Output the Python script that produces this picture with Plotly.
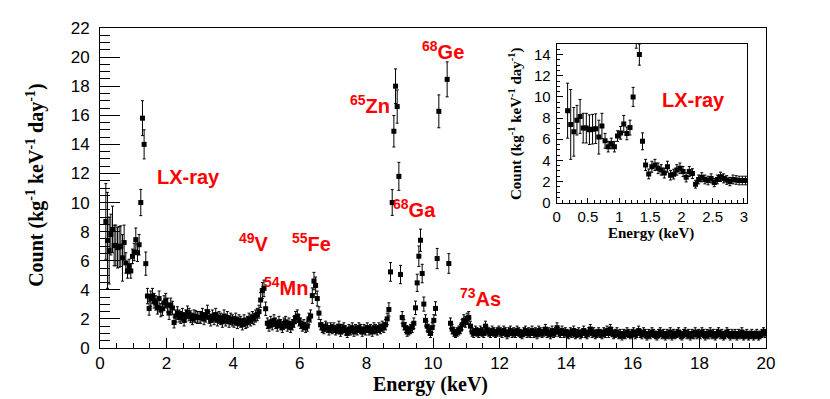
import numpy as np
import plotly.graph_objects as go

# bin centres start at 0.175 keV, 0.05 keV wide
e_start, e_step = 0.175, 0.05

counts_0_3 = [8.7, 7.4, 6.7, 7.8, 8.15, 7.05, 7.05, 6.9, 6.95, 7.0,
              6.2, 7.25, 5.85, 5.3, 5.6, 5.3, 6.3, 6.6, 7.45, 6.55,
              7.1, 10.0, 15.8, 14.0, 5.8,
              3.57, 2.72, 3.4, 3.57, 3.25, 3.1, 2.8, 3.4, 2.6, 2.7,
              3.1, 3.25, 2.95, 2.4, 2.95, 2.75,
              1.75, 2.2, 2.4, 2.2, 2.1, 2.3, 1.9, 2.2, 2.45, 2.3,
              2.15, 2.0, 2.2, 2.15, 2.1, 2.1]
counts_3_8 = [2.1, 2.3, 2.0, 2.2, 2.5, 2.1, 1.9, 2.2, 2.0, 2.3, 1.9, 2.1, 2.0, 1.8, 2.2, 1.9, 2.1, 1.8, 2.0, 1.9,
              1.8, 2.0, 1.7, 1.9, 1.8, 1.6, 1.9, 1.7, 1.8, 2.0, 1.9, 2.1, 2.0, 2.2, 2.3, 2.5, 3.3, 3.95, 4.1, 2.7,
              1.7, 1.5, 1.8, 1.6, 1.9, 1.7, 1.5, 1.8, 1.6, 1.4, 1.7, 1.8, 1.5, 1.7, 1.4, 1.6, 1.8, 2.1, 2.2, 1.9,
              1.7, 1.5, 1.6, 1.4, 1.5, 2.0, 2.2, 3.6, 4.6, 4.3, 3.4, 2.4, 1.6, 1.4, 1.3, 1.5, 1.4, 1.2, 1.4, 1.3,
              1.4, 1.2, 1.3, 1.5, 1.1, 1.3, 1.4, 1.2, 1.0, 1.3, 1.2, 1.4, 1.1, 1.3, 1.2, 1.4, 1.3, 1.1, 1.3, 1.2]
counts_8_12 = [1.4, 1.2, 1.3, 1.1, 1.4, 1.3, 1.2, 1.4, 1.3, 1.5, 1.4, 1.6, 2.0, 2.65, 5.23, 10.0, 14.9, 18.0, 16.6, 11.8,
               5.05, 2.1, 1.6, 1.4, 1.1, 1.2, 1.3, 1.4, 1.7, 2.76, 4.48, 6.31, 7.41, 5.12, 3.02, 1.9, 1.5, 1.2, 1.0, 1.4,
               1.9, 2.72, 6.15, 16.27, None, None, None, None, 18.47, 5.81, 1.7, 1.3, 1.1, 1.0, 1.1, 1.2, 1.3, 1.6, 1.9, 1.8,
               2.0, 2.1, 1.5, 1.1, 1.0, 1.2, 1.1, 1.0, 1.2, 1.1, 1.0, 1.5, 1.2, 1.1, 1.0, 1.2, 1.1, 1.0, 1.1, 1.2]
counts_12_20 = [1.1, 1.0, 1.2, 1.1, 0.9, 1.1, 1.2, 1.0, 1.1, 1.0, 1.2, 1.1, 1.0, 0.9, 1.1, 1.2, 1.0, 1.1, 1.0, 1.2,
                1.0, 1.1, 0.9, 1.2, 1.1, 1.0, 1.1, 1.3, 1.0, 1.1, 0.9, 1.2, 1.0, 1.1, 1.4, 1.1, 1.0, 1.2, 1.0, 1.1,
                1.0, 0.9, 1.1, 1.0, 1.2, 0.9, 1.0, 1.1, 0.9, 1.0, 1.2, 1.0, 0.9, 1.1, 1.3, 1.0, 1.1, 0.9, 1.0, 1.1,
                1.0, 0.9, 1.1, 1.0, 1.2, 1.0, 1.3, 1.1, 0.9, 1.0, 1.1, 0.9, 1.0, 0.8, 1.0, 0.9, 1.1, 1.0, 0.9, 1.0,
                1.1, 0.9, 1.0, 1.2, 1.0, 0.9, 1.1, 1.0, 0.8, 1.0, 0.9, 1.1, 1.0, 0.9, 0.8, 1.0, 1.1, 0.9, 1.0, 0.8,
                1.0, 0.9, 1.1, 0.8, 1.0, 0.9, 1.0, 1.1, 0.9, 0.8, 1.0, 1.1, 0.9, 1.0, 0.8, 1.0, 0.9, 1.1, 0.9, 1.0,
                0.9, 1.1, 1.0, 0.8, 1.0, 0.9, 1.1, 0.9, 1.0, 0.8, 1.0, 1.1, 0.9, 1.0, 0.8, 0.9, 1.1, 1.0, 0.8, 1.0,
                0.9, 1.0, 0.8, 1.0, 0.9, 1.1, 0.8, 0.9, 1.0, 0.8, 0.9, 1.0, 0.8, 0.9, 1.0, 0.8, 0.9, 1.0, 1.1, 1.0]

err_low = [2.6, 3.3, 2.3, 1.4, 1.6, 1.4, 1.4, 1.4, 1.4, 1.4, 1.6, 1.2, 0.7,
           0.5, 0.5, 0.5, 0.5, 0.6, 0.8, 0.6, 0.7, 0.9, 1.2, 1.0, 0.8]
err_scale = 0.28

counts = counts_0_3 + counts_3_8 + counts_8_12 + counts_12_20
energy = np.round(e_start + e_step * np.arange(len(counts)), 3)
errors = err_low + [None if c is None else err_scale * np.sqrt(c)
                    for c in counts[len(err_low):]]

y_title = "Count (kg<sup>-1</sup> keV<sup>-1</sup> day<sup>-1</sup>)"

lines = [("LX-ray", 1.65, 11.75, "x", "y"),
         ("<sup>49</sup>V", 4.1, 7.25, "x", "y"),
         ("<sup>55</sup>Fe", 5.7, 7.25, "x", "y"),
         ("<sup>54</sup>Mn", 4.85, 4.25, "x", "y"),
         ("<sup>65</sup>Zn", 7.45, 16.75, "x", "y"),
         ("<sup>68</sup>Ge", 9.6, 20.45, "x", "y"),
         ("<sup>68</sup>Ga", 8.75, 9.6, "x", "y"),
         ("<sup>73</sup>As", 10.75, 3.5, "x", "y"),
         ("LX-ray", 1.66, 9.7, "x2", "y2")]

SANS = "Liberation Sans"
SERIF = "Liberation Serif"

fig = go.Figure()
err_style = dict(type="data", array=errors, color="black", thickness=1, width=1.5)
fig.add_trace(go.Scatter(x=energy, y=counts, mode="markers",
                         marker=dict(symbol="square", size=5, color="black"),
                         error_y=err_style, showlegend=False))
inset = energy <= 3.05
fig.add_trace(go.Scatter(x=energy[inset], y=[c for c, k in zip(counts, inset) if k],
                         mode="markers", xaxis="x2", yaxis="y2",
                         marker=dict(symbol="square", size=5, color="black"),
                         error_y=dict(err_style, array=[e for e, k in zip(errors, inset) if k]),
                         showlegend=False))

axis_common = dict(showline=True, linecolor="black", linewidth=1, mirror=True,
                   ticks="inside", tickcolor="black", showgrid=False, zeroline=False,
                   tickfont=dict(family=SANS, size=17, color="black"))
inset_font = dict(family=SANS, size=15, color="black")

# the page body adds an 8px margin, so the figure is 8px smaller each way
fig.update_layout(
    width=822, height=391,
    margin=dict(l=92, r=64, t=20, b=51),
    paper_bgcolor="white", plot_bgcolor="white",
    xaxis=dict(axis_common, range=[0, 20], tick0=0, dtick=2, ticklen=10,
               minor=dict(dtick=0.5, ticklen=5, ticks="inside", tickcolor="black")),
    yaxis=dict(axis_common, range=[0, 22], tick0=0, dtick=2, ticklen=20,
               ticklabelstandoff=6,
               minor=dict(dtick=0.5, ticklen=10, ticks="inside", tickcolor="black")),
    xaxis2=dict(axis_common, domain=[0.6857, 0.9715], anchor="y2", range=[0, 3.05],
                tick0=0, dtick=0.5, ticklen=5, tickfont=inset_font,
                minor=dict(dtick=0.1, ticklen=2.5, ticks="inside", tickcolor="black")),
    yaxis2=dict(axis_common, domain=[0.454, 0.95], anchor="x2", range=[0, 15],
                tick0=0, dtick=2, ticklen=6, ticklabelstandoff=2, tickfont=inset_font,
                minor=dict(dtick=0.5, ticklen=3, ticks="inside", tickcolor="black")),
)

annotations = [
    dict(text="<b>Energy (keV)</b>", x=0.4955, y=-0.115, xref="paper", yref="paper",
         font=dict(family=SERIF, size=20, color="black")),
    dict(text="<b>" + y_title + "</b>", x=-0.098, y=0.509, xref="paper", yref="paper",
         textangle=-90, font=dict(family=SERIF, size=20, color="black")),
    dict(text="<b>Energy (keV)</b>", x=0.827, y=0.358, xref="paper", yref="paper",
         font=dict(family=SERIF, size=15, color="black")),
    dict(text="<b>" + y_title + "</b>", x=0.623, y=0.703, xref="paper", yref="paper",
         textangle=-90, font=dict(family=SERIF, size=15, color="black")),
]
for text, x, y, xr, yr in lines:
    annotations.append(dict(text="<b>" + text + "</b>", x=x, y=y, xref=xr, yref=yr,
                            xanchor="left", yanchor="middle",
                            font=dict(family=SANS, size=20, color="red")))
for a in annotations:
    a.setdefault("showarrow", False)
    a.setdefault("xanchor", "center")
    a.setdefault("yanchor", "middle")
fig.update_layout(annotations=annotations)

fig.write_html("out.html")
